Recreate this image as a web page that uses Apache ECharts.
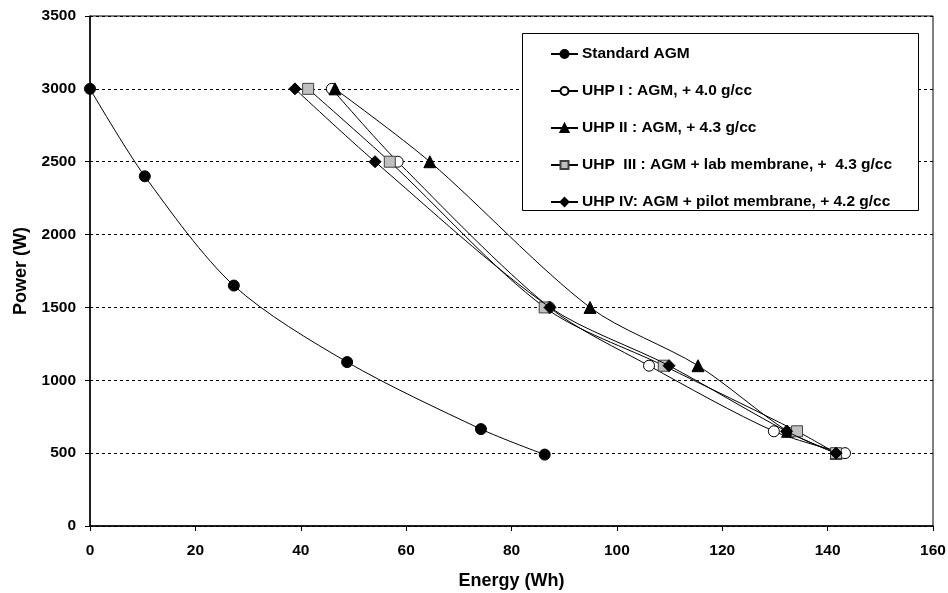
<!DOCTYPE html>
<html><head><meta charset="utf-8">
<script src="https://cdn.jsdelivr.net/npm/echarts@6/dist/echarts.min.js"></script>
<style>html,body{margin:0;padding:0;background:#fff}#c{width:948px;height:593px}</style>
</head><body><div id="c"></div>
<script>
const seriesNames = ["Standard AGM","UHP I : AGM, + 4.0 g/cc","UHP II : AGM, + 4.3 g/cc","UHP  III : AGM + lab membrane, +  4.3 g/cc","UHP IV: AGM + pilot membrane, + 4.2 g/cc"];
const powerStd = [3000, 2400, 1650, 1125, 665, 490];
const energyStd = [0, 10.4, 27.3, 48.8, 74.2, 86.3];
const powerUHP = [3000, 2500, 1500, 1100, 650, 500];
const energyUHP1 = [45.9, 58.4, 87.2, 106.1, 129.8, 143.3];
const energyUHP2 = [46.5, 64.5, 94.9, 115.4, 132.4, 141.6];
const energyUHP3 = [41.4, 56.9, 86.3, 108.9, 134.2, 141.6];
const energyUHP4 = [38.9, 54.1, 87.3, 109.9, 132.2, 141.6];
const xTicks = [0,20,40,60,80,100,120,140,160];
const yTicks = [0,500,1000,1500,2000,2500,3000,3500];

const pairs = (xs, ys) => xs.map((x,i)=>[x, ys[i]]);
const styles = [
  {symbol:'circle', size:11, color:'#000', border:'#000'},
  {symbol:'circle', size:11, color:'#fff', border:'#000'},
  {symbol:'triangle', size:12, color:'#000', border:'#000'},
  {symbol:'rect', size:11, color:'#c0c0c0', border:'#404040'},
  {symbol:'diamond', size:12, color:'#000', border:'#000'}
];
const dataSets = [pairs(energyStd,powerStd), pairs(energyUHP1,powerUHP), pairs(energyUHP2,powerUHP), pairs(energyUHP3,powerUHP), pairs(energyUHP4,powerUHP)];
const series = dataSets.map((d,i)=>({
  name: seriesNames[i], type:'line', data:d, smooth:0.3,
  symbol: styles[i].symbol, symbolSize: styles[i].size,
  lineStyle:{color:'#000', width:1},
  itemStyle:{color:styles[i].color, borderColor:styles[i].border, borderWidth:1},
  z: 3 + i
}));
const font = 'Arial, "Liberation Sans", sans-serif';
const chart = echarts.init(document.getElementById('c'));
chart.setOption({
  animation:false,
  backgroundColor:'#fff',
  grid:{left:90, right:15, top:16, bottom:67, show:true, borderColor:'#000', borderWidth:1, containLabel:false, outerBoundsMode:'none'},
  xAxis:{type:'value', min:xTicks[0], max:xTicks[xTicks.length-1], interval:xTicks[1]-xTicks[0],
    name:'Energy (Wh)', nameLocation:'middle', nameGap:46,
    nameTextStyle:{fontFamily:font, fontWeight:'bold', fontSize:18, color:'#000'},
    axisLine:{lineStyle:{color:'#000', width:1.5}},
    axisTick:{show:true, inside:false, length:5, lineStyle:{color:'#000'}},
    axisLabel:{fontFamily:font, fontWeight:'bold', fontSize:15.5, color:'#000', margin:17},
    splitLine:{show:false}},
  yAxis:{type:'value', min:yTicks[0], max:yTicks[yTicks.length-1], interval:yTicks[1]-yTicks[0],
    name:'Power (W)', nameLocation:'middle', nameGap:60, nameRotate:90,
    nameTextStyle:{fontFamily:font, fontWeight:'bold', fontSize:18, color:'#000'},
    axisLine:{show:true, lineStyle:{color:'#000', width:1.5}},
    axisTick:{show:true, inside:false, length:5, lineStyle:{color:'#000'}},
    axisLabel:{fontFamily:font, fontWeight:'bold', fontSize:15.5, color:'#000', margin:14, formatter:v=>String(v)},
    splitLine:{show:true, lineStyle:{color:'#000', type:[3,3], width:1}}},
  graphic:[{type:'rect', left:522, top:33, shape:{width:396, height:177}, style:{fill:'#fff', stroke:'#000', lineWidth:1}, z:5}],
  legend:{orient:'vertical', left:545, top:41, itemGap:21, itemWidth:27, itemHeight:10, z:6,
    textStyle:{fontFamily:font, fontWeight:'bold', fontSize:15.5, color:'#000', lineHeight:16, padding:[0,0,0,-1]},
    data: seriesNames},
  series: series
});
</script></body></html>
